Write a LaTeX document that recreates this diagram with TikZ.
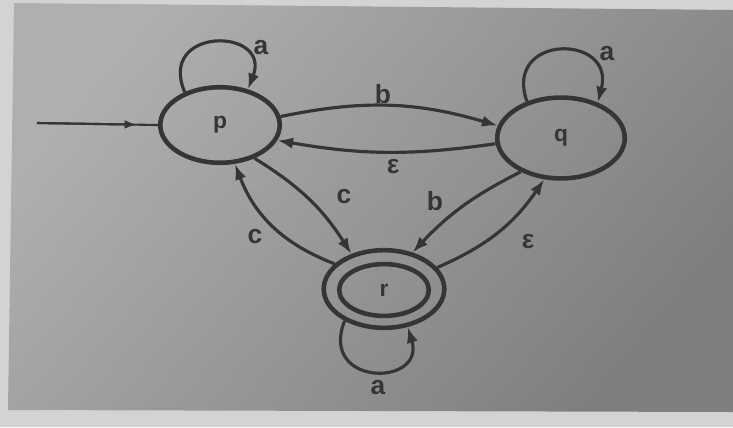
\documentclass[tikz,border=0pt]{standalone}
\usepackage{fontspec}
\setmainfont{Liberation Sans}
\usetikzlibrary{arrows.meta,shapes.geometric}
\definecolor{ink}{HTML}{363435}
\definecolor{paper}{HTML}{D3D2D5}
\definecolor{grayA}{HTML}{B0AFB0}
\definecolor{grayB}{HTML}{807E7F}
\begin{document}
\begin{tikzpicture}[x=0.02cm,y=-0.02cm,
  state/.style={ellipse, draw=ink, line width=2.6pt, inner sep=0pt, text=ink,
    font=\fontsize{13}{13}\selectfont\bfseries},
  edge/.style={draw=ink, line width=1.8pt, -{Latex[length=9pt,width=6.5pt]}},
  lbl/.style={text=ink, font=\fontsize{15}{15}\selectfont\bfseries, inner sep=1pt}]
\useasboundingbox (0,0) rectangle (733,427);
\fill[paper] (0,0) rectangle (733,427);
\shade[shading=axis, top color=grayA, bottom color=grayB, shading angle=50]
  (14,3) -- (733,10) -- (733,412) -- (8,410) -- cycle;

\node[state, minimum width=68pt, minimum height=43pt] (p) at (220,125) {p};
\node[state, minimum width=72.6pt, minimum height=46pt] (q) at (561,138) {q};
\node[state, minimum width=68.6pt, minimum height=44.2pt] (r) at (384,289) {};
\node[state, minimum width=51pt, minimum height=29.5pt] (rin) at (384,290) {r};

% initial arrow
\coordinate (init) at (37,123);
\draw[ink, line width=1.2pt] (init) -- (p.west);
\draw[draw=ink, line width=1.2pt, -{Latex[length=7pt,width=5pt]}, shorten >=12pt] (init) -- (p.west);

% self loops
\draw[edge] (p.137) .. controls +(-28,-66) and +(24,-62) .. (p.52);
\draw[edge] (q.133) .. controls +(-24,-68) and +(18,-69) .. (q.44);
\draw[edge] (r.219) .. controls +(-26,66) and +(18,60) .. (r.302);

% transitions
\draw[edge] (p.8) to[bend left=14] (q.169);
\draw[edge] (q.185) to[bend left=9] (p.345);
\draw[edge] (p.-44) to[bend left=13] (r.133);
\draw[edge] (r.153) to[bend left=24] (p.-69);
\draw[edge] (q.220) to[bend right=10] (r.52);
\draw[edge] (r.22) to[bend right=16] (q.248);

% labels
\node[lbl] (la) at (261,48) {a};
\node[lbl] (lb) at (607,54) {a};
\node[lbl] (lc) at (378,388) {a};
\node[lbl] (ld) at (383,94) {b};
\node[lbl] (le) at (393,167) {ε};
\node[lbl] (lf) at (344,197) {c};
\node[lbl] (lg) at (255,237) {c};
\node[lbl] (lh) at (435,201) {b};
\node[lbl] (li) at (528,242) {ε};
\end{tikzpicture}
\end{document}
